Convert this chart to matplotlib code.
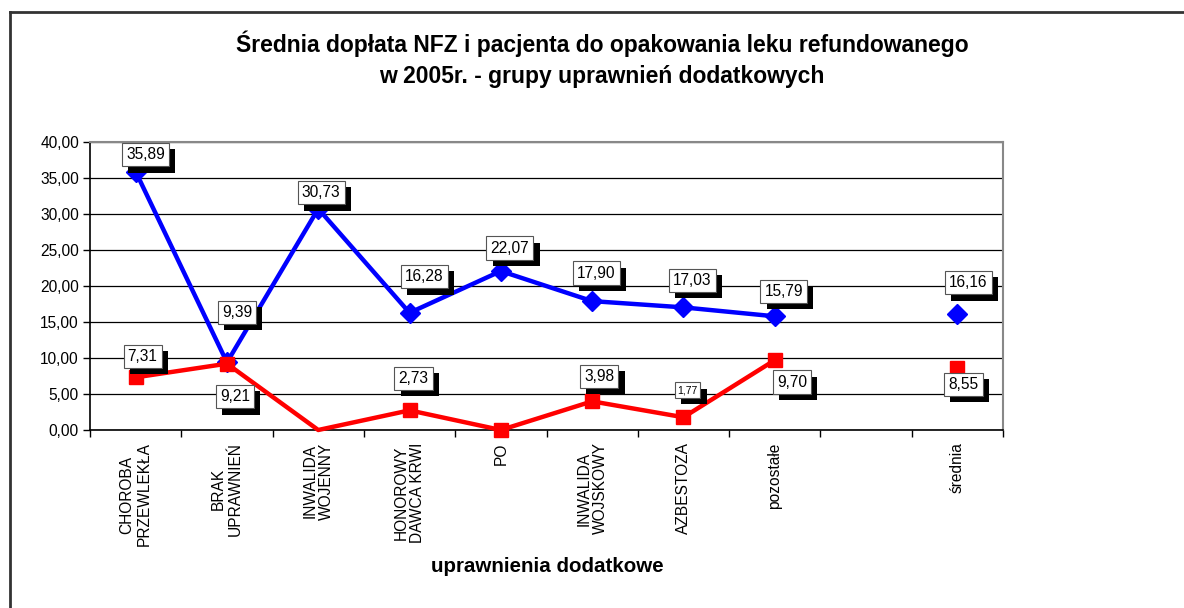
import numpy as np
import matplotlib
matplotlib.use("Agg")
import matplotlib.pyplot as plt
import matplotlib.patheffects as pe
from matplotlib.lines import Line2D

plt.rcParams['font.family'] = ['Liberation Sans', 'DejaVu Sans']

categories = ["CHOROBA\nPRZEWLEKŁA", "BRAK\nUPRAWNIEŃ", "INWALIDA\nWOJENNY",
              "HONOROWY\nDAWCA KRWI", "PO", "INWALIDA\nWOJSKOWY", "AZBESTOZA",
              "pozostałe", "", "średnia"]
nfz = [35.89, 9.39, 30.73, 16.28, 22.07, 17.90, 17.03, 15.79, np.nan, 16.16]
pacjent = [7.31, 9.21, 0.0, 2.73, 0.0, 3.98, 1.77, 9.70, np.nan, 8.55]
nfz_labels = ["35,89", "9,39", "30,73", "16,28", "22,07", "17,90", "17,03", "15,79", None, "16,16"]
pacjent_labels = ["7,31", "9,21", None, "2,73", None, "3,98", "1,77", "9,70", None, "8,55"]
yticks = [0, 5, 10, 15, 20, 25, 30, 35, 40]

# label offsets in pixels (layout only)
nfz_off = [(10, 17), (10, 50), (3, 16), (15, 36), (9, 23), (4, 28), (9, 27), (9, 25), None, (11, 31)]
pac_off = [(7, 21), (8, -33), None, (4, 32), None, (7, 25), (4, 27), (17, -22), None, (6, -16)]

W, H = 1184, 608
fig = plt.figure(figsize=(W / 100, H / 100), dpi=100)
fig.patch.set_facecolor('white')

# outer frame lines (left + top)
fig.add_artist(Line2D([10 / W, 10 / W], [0, 1 - 12 / H], color='#333333', lw=2, transform=fig.transFigure))
fig.add_artist(Line2D([10 / W, 1], [1 - 12 / H, 1 - 12 / H], color='#333333', lw=2, transform=fig.transFigure))

ax = fig.add_axes([90 / W, 1 - 430 / H, (1003 - 90) / W, (430 - 142) / H])
x = np.arange(len(categories))

ax.set_xlim(-0.5, len(categories) - 0.5)
ax.set_ylim(0, 40)
ax.set_yticks(yticks)
ax.set_yticklabels([f"{v:.2f}".replace('.', ',') for v in yticks], fontsize=11.2)
ax.yaxis.grid(True, color='black', lw=0.9)
ax.set_axisbelow(True)

ax.set_xticks(np.arange(-0.5, len(categories)), labels=[])
ax.set_xticks(x, minor=True)
ax.set_xticklabels(categories, minor=True, rotation=90, fontsize=11.2, va='top', ha='center',
                   multialignment='center', linespacing=1.15)
ax.tick_params(axis='x', which='major', direction='out', length=5, width=1)
ax.tick_params(axis='x', which='minor', length=0, pad=9)
ax.tick_params(axis='y', direction='out', length=5, width=1, pad=3)

for s in ['left', 'bottom']:
    ax.spines[s].set_color('black')
    ax.spines[s].set_linewidth(1.2)
for s in ['top', 'right']:
    ax.spines[s].set_color('#888888')
    ax.spines[s].set_linewidth(1.5)

nfz_arr = np.array(nfz)
pac_arr = np.array(pacjent)

ax.plot(x, nfz_arr, color='#0000FF', lw=3.2, marker='D', markersize=10, zorder=3, clip_on=False)
pac_markers = [i for i, l in enumerate(pacjent_labels) if not (l is None and i == 2)]
ax.plot(x, pac_arr, color='#FF0000', lw=3.2, zorder=3, clip_on=False)
ax.plot(x[pac_markers], pac_arr[pac_markers], color='#FF0000', lw=0, marker='s', markersize=10,
        zorder=4, clip_on=False)


def label(xi, yi, txt, off, fs=11.2):
    t = ax.annotate(txt, (xi, yi), xytext=off, textcoords='offset pixels', ha='center', va='center',
                    fontsize=fs, zorder=6,
                    bbox=dict(boxstyle='square,pad=0.27', fc='white', ec='#555555', lw=0.8))
    t.get_bbox_patch().set_path_effects([
        pe.SimplePatchShadow(offset=(4.5, -4.5), shadow_rgbFace='black', alpha=1.0),
        pe.Normal()])


for i in range(len(categories)):
    if nfz_labels[i] is not None:
        label(x[i], nfz[i], nfz_labels[i], nfz_off[i])
    if pacjent_labels[i] is not None:
        label(x[i], pacjent[i], pacjent_labels[i], pac_off[i], fs=7.5 if i == 6 else 11.2)

fig.text(602 / W, 1 - 44 / H, "Średnia dopłata NFZ i pacjenta do opakowania leku refundowanego",
         ha='center', va='center', fontsize=16.5, fontweight='bold')
fig.text(602 / W, 1 - 76 / H, "w 2005r. - grupy uprawnień dodatkowych",
         ha='center', va='center', fontsize=16.5, fontweight='bold')
fig.text(547 / W, 1 - 567 / H, "uprawnienia dodatkowe", ha='center', va='center',
         fontsize=14.8, fontweight='bold')

fig.savefig("out.png", dpi=100)
